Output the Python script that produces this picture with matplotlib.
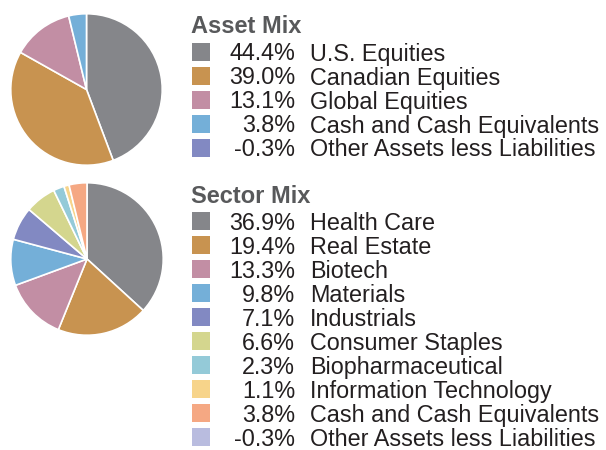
import matplotlib
matplotlib.use("Agg")
import matplotlib.pyplot as plt
from matplotlib.patches import Rectangle

plt.rcParams['font.family'] = ['Liberation Sans', 'DejaVu Sans']

asset_labels = ["U.S. Equities", "Canadian Equities", "Global Equities",
                "Cash and Cash Equivalents", "Other Assets less Liabilities"]
asset_values = [44.4, 39.0, 13.1, 3.8, -0.3]
asset_colors = ["#85868a", "#c89350", "#c28ea4", "#74afd8", "#8289c2"]

sector_labels = ["Health Care", "Real Estate", "Biotech", "Materials", "Industrials",
                 "Consumer Staples", "Biopharmaceutical", "Information Technology",
                 "Cash and Cash Equivalents", "Other Assets less Liabilities"]
sector_values = [36.9, 19.4, 13.3, 9.8, 7.1, 6.6, 2.3, 1.1, 3.8, -0.3]
sector_colors = ["#85868a", "#c89350", "#c28ea4", "#74afd8", "#8289c2",
                 "#d4d68e", "#94cad8", "#f7d48a", "#f5a883", "#b9bcdf"]

W, H = 606, 450
fig = plt.figure(figsize=(W / 100, H / 100), dpi=100)

def pie_axes(cx, cy, r):
    return fig.add_axes([(cx - r) / W, 1 - (cy + r) / H, 2 * r / W, 2 * r / H])

def draw_pie(ax, values, colors):
    vals = [v for v in values if v > 0]
    cols = [c for v, c in zip(values, colors) if v > 0]
    ax.pie(vals, colors=cols, startangle=90, counterclock=False, radius=1,
           wedgeprops=dict(edgecolor="white", linewidth=1.2))
    ax.set_xlim(-1.01, 1.01)
    ax.set_ylim(-1.01, 1.01)
    ax.set_aspect("equal")
    ax.axis("off")

draw_pie(pie_axes(86.5, 89.5, 76.5), asset_values, asset_colors)
draw_pie(pie_axes(87, 259, 77), sector_values, sector_colors)

ov = fig.add_axes([0, 0, 1, 1])
ov.set_xlim(0, W)
ov.set_ylim(H, 0)
ov.axis("off")

def draw_legend(title, title_base, first_base, step, labels, values, colors):
    ov.text(191, title_base, title, fontsize=17, fontweight="bold",
            color="#58595b", va="baseline", ha="left")
    for i, (lab, v, c) in enumerate(zip(labels, values, colors)):
        b = first_base + i * step
        ov.add_patch(Rectangle((192, b - 18), 18, 18, facecolor=c, edgecolor="none"))
        ov.text(295, b, f"{v:.1f}%", fontsize=16.8, color="#231f20",
                va="baseline", ha="right")
        ov.text(310, b, lab, fontsize=16.8, color="#231f20", va="baseline", ha="left")

draw_legend("Asset Mix", 33.3, 60.5, 24.0, asset_labels, asset_values, asset_colors)
draw_legend("Sector Mix", 203.3, 230.0, 24.0, sector_labels, sector_values, sector_colors)

fig.savefig("out.png", dpi=100, facecolor="white")
